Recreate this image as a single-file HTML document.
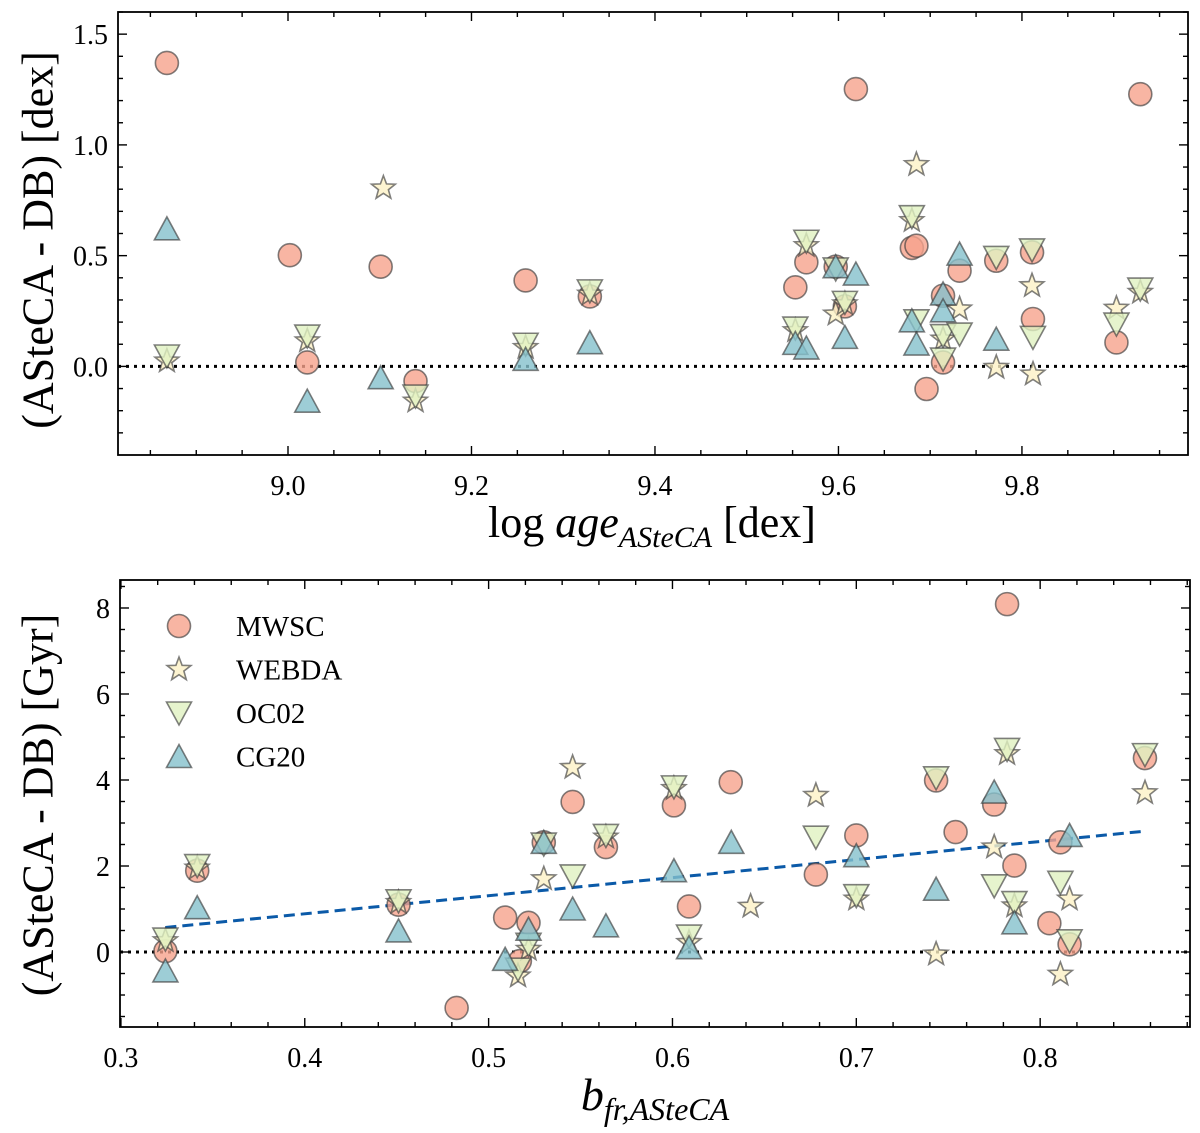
<!DOCTYPE html>
<html><head><meta charset="utf-8"><style>
html,body{margin:0;padding:0;background:#fff;}
svg{display:block;font-family:"Liberation Serif",serif;}
</style></head><body>
<svg id="fig" width="1200" height="1133" viewBox="0 0 1200 1133" xmlns="http://www.w3.org/2000/svg"></svg>
<script>
// ---- Top panel data: log age (x), delta age dex (y)
const topMwscX = [8.868,9.002,9.021,9.101,9.139,9.259,9.329,9.553,9.565,9.597,9.607,9.619,9.680,9.685,9.696,9.714,9.714,9.732,9.772,9.811,9.812,9.903,9.929];
const topMwscY = [1.370,0.502,0.018,0.450,-0.066,0.388,0.316,0.357,0.470,0.450,0.271,1.252,0.535,0.545,-0.102,0.319,0.018,0.432,0.477,0.515,0.214,0.108,1.229];
const topWebdaX = [8.868,9.021,9.104,9.139,9.259,9.329,9.553,9.565,9.597,9.607,9.680,9.685,9.714,9.732,9.772,9.811,9.812,9.903,9.929];
const topWebdaY = [0.024,0.115,0.805,-0.157,0.085,0.326,0.161,0.545,0.236,0.282,0.658,0.911,0.123,0.259,-0.005,0.364,-0.035,0.262,0.334];
const topOc02X = [8.868,9.021,9.139,9.259,9.329,9.553,9.565,9.597,9.607,9.680,9.685,9.714,9.714,9.732,9.772,9.811,9.812,9.903,9.929];
const topOc02Y = [0.047,0.137,-0.134,0.100,0.341,0.173,0.565,0.440,0.289,0.676,0.206,0.139,0.033,0.146,0.492,0.526,0.131,0.191,0.349];
const topCg20X = [8.868,9.021,9.101,9.259,9.329,9.553,9.565,9.597,9.619,9.607,9.680,9.685,9.714,9.714,9.732,9.772];
const topCg20Y = [0.621,-0.157,-0.051,0.032,0.107,0.104,0.083,0.450,0.417,0.131,0.206,0.101,0.327,0.251,0.507,0.123];
const topXTicks = [9.0,9.2,9.4,9.6,9.8];
const topXTickLabels = ["9.0","9.2","9.4","9.6","9.8"];
const topYTicks = [0.0,0.5,1.0,1.5];
const topYTickLabels = ["0.0","0.5","1.0","1.5"];

// ---- Bottom panel data: b_fr (x), delta age Gyr (y)
const botMwscX = [0.3242,0.3415,0.451,0.4826,0.509,0.5217,0.517,0.530,0.5457,0.5638,0.6008,0.6317,0.609,0.678,0.700,0.7434,0.754,0.775,0.782,0.786,0.805,0.811,0.816,0.857];
const botMwscY = [0.02,1.89,1.10,-1.30,0.80,0.68,-0.21,2.55,3.49,2.44,3.41,3.95,1.06,1.80,2.71,3.99,2.79,3.43,8.09,2.01,0.67,2.55,0.18,4.51];
const botWebdaX = [0.3242,0.3415,0.451,0.516,0.5217,0.530,0.5457,0.5638,0.6008,0.609,0.6425,0.678,0.700,0.7434,0.775,0.782,0.786,0.811,0.816,0.857];
const botWebdaY = [0.26,1.95,1.15,-0.56,0.06,1.70,4.29,2.67,3.80,0.22,1.06,3.64,1.23,-0.05,2.44,4.61,1.07,-0.52,1.23,3.70];
const botOc02X = [0.3242,0.3415,0.451,0.516,0.5217,0.530,0.5457,0.5638,0.6008,0.609,0.678,0.700,0.7434,0.775,0.782,0.786,0.811,0.816,0.857];
const botOc02Y = [0.30,2.01,1.19,-0.40,0.18,2.51,1.77,2.71,3.84,0.37,2.67,1.31,4.05,1.54,4.71,1.15,1.62,0.26,4.59];
const botCg20X = [0.3242,0.3415,0.451,0.509,0.5217,0.530,0.5457,0.5638,0.6008,0.609,0.632,0.700,0.7434,0.775,0.786,0.816];
const botCg20Y = [-0.44,1.03,0.49,-0.17,0.53,2.55,1.00,0.61,1.89,0.10,2.55,2.24,1.46,3.72,0.68,2.71];
const fitX = [0.3242,0.857];
const fitSlope = 4.204;
const fitIntercept = -0.793;
const botXTicks = [0.3,0.4,0.5,0.6,0.7,0.8];
const botXTickLabels = ["0.3","0.4","0.5","0.6","0.7","0.8"];
const botYTicks = [0,2,4,6,8];
const botYTickLabels = ["0","2","4","6","8"];

const NS = "http://www.w3.org/2000/svg";
const svg = document.getElementById('fig');
function mk(tag, attrs, parent){
  const e = document.createElementNS(NS, tag);
  for (const k in attrs) e.setAttribute(k, attrs[k]);
  (parent||svg).appendChild(e);
  return e;
}
const STYLE = {
  mwsc:{fill:"#f6a38c"}, webda:{fill:"#fdf1c6"}, oc02:{fill:"#e0f1c0"}, cg20:{fill:"#84c0cc"}
};
function marker(kind, cx, cy, g){
  let e;
  const common = {fill:STYLE[kind].fill, 'fill-opacity':0.8, stroke:'#3c3c3c', 'stroke-opacity':0.65, 'stroke-width':1.6};
  if (kind==='mwsc'){
    e = mk('circle', Object.assign({cx:cx, cy:cy, r:11.5}, common), g);
  } else if (kind==='webda'){
    let pts=[];
    for(let i=0;i<10;i++){const r=i%2?5.2:12.5;const a=-Math.PI/2+i*Math.PI/5;pts.push((cx+r*Math.cos(a)).toFixed(1)+','+(cy+r*Math.sin(a)).toFixed(1));}
    e = mk('polygon', Object.assign({points:pts.join(' ')}, common), g);
  } else if (kind==='oc02'){
    e = mk('polygon', Object.assign({points:`${cx-12.5},${cy-11} ${cx+12.5},${cy-11} ${cx},${cy+12}`}, common), g);
  } else {
    e = mk('polygon', Object.assign({points:`${cx-12.5},${cy+11} ${cx+12.5},${cy+11} ${cx},${cy-12}`}, common), g);
  }
  return e;
}

function panel(cfg){
  const {name,L,R,T,B,xmin,xmax,ymin,ymax} = cfg;
  const sx = v => L + (v-xmin)/(xmax-xmin)*(R-L);
  const sy = v => B - (v-ymin)/(ymax-ymin)*(B-T);
  const g = mk('g', {});
  
  
  const clipId = name+'-clip';
  const cp = mk('clipPath',{id:clipId},g); mk('rect',{x:L,y:T,width:R-L,height:B-T},cp);
  const zl = mk('line',{x1:L,x2:R,y1:sy(0),y2:sy(0),stroke:'#000','stroke-width':3,'stroke-dasharray':'3 5'},g);
  
  
  if (cfg.fit){
    const fl = mk('line',{x1:sx(fitX[0]),x2:sx(fitX[1]),y1:sy(fitIntercept+fitSlope*fitX[0]),y2:sy(fitIntercept+fitSlope*fitX[1]),stroke:'#0b5aa8','stroke-width':3,'stroke-dasharray':'11 6'},g);
    
    
  }
  const mg = mk('g',{'clip-path':`url(#${clipId})`},g);
  cfg.series.forEach(s=>{
    const sg = mk('g',{},mg);
    
    
    s.x.forEach((xv,i)=>{
      const m = marker(s.kind, sx(xv), sy(s.y[i]), sg);
      
      
    });
  });
  const fr = mk('rect',{x:L,y:T,width:R-L,height:B-T,fill:'none',stroke:'#000','stroke-width':1.8},g);
  
  
  const tg = mk('g',{stroke:'#000','stroke-width':1.4},g);
  for (let v=cfg.xminorStart; v<=xmax+1e-9; v+=cfg.xminor){
    const isMaj = cfg.xticks.some(t=>Math.abs(t-v)<1e-6);
    const len = isMaj?9:5; const x=sx(v);
    if (x<L-0.5||x>R+0.5) continue;
    mk('line',{x1:x,x2:x,y1:B,y2:B-len},tg); mk('line',{x1:x,x2:x,y1:T,y2:T+len},tg);
  }
  for (let v=cfg.yminorStart; v<=ymax+1e-9; v+=cfg.yminor){
    const isMaj = cfg.yticks.some(t=>Math.abs(t-v)<1e-6);
    const len = isMaj?9:5; const y=sy(v);
    if (y<T-0.5||y>B+0.5) continue;
    mk('line',{x1:L,x2:L+len,y1:y,y2:y},tg); mk('line',{x1:R,x2:R-len,y1:y,y2:y},tg);
  }
  cfg.xticks.forEach((v,i)=>{
    const t = mk('text',{x:sx(v),y:B+40,'text-anchor':'middle','font-size':28,fill:'#000'},g);
    t.textContent = cfg.xlabels[i];
    
    
  });
  cfg.yticks.forEach((v,i)=>{
    const t = mk('text',{x:L-10,y:sy(v)+10,'text-anchor':'end','font-size':28,fill:'#000'},g);
    t.textContent = cfg.ylabels[i];
    
    
  });
  return g;
}

panel({name:'age-dex-panel',L:118,R:1188,T:12,B:455,xmin:8.8147,xmax:9.981,ymin:-0.40,ymax:1.60,
  xticks:topXTicks,xlabels:topXTickLabels,yticks:topYTicks,ylabels:topYTickLabels,
  xminor:0.05,xminorStart:8.85,yminor:0.1,yminorStart:-0.3,
  series:[{kind:'mwsc',x:topMwscX,y:topMwscY},{kind:'webda',x:topWebdaX,y:topWebdaY},{kind:'oc02',x:topOc02X,y:topOc02Y},{kind:'cg20',x:topCg20X,y:topCg20Y}]});
panel({name:'age-gyr-panel',L:120,R:1190,T:580,B:1027,xmin:0.2995,xmax:0.8815,ymin:-1.744,ymax:8.651,fit:true,
  xticks:botXTicks,xlabels:botXTickLabels,yticks:botYTicks,ylabels:botYTickLabels,
  xminor:0.02,xminorStart:0.30,yminor:0.5,yminorStart:-1.5,
  series:[{kind:'mwsc',x:botMwscX,y:botMwscY},{kind:'webda',x:botWebdaX,y:botWebdaY},{kind:'oc02',x:botOc02X,y:botOc02Y},{kind:'cg20',x:botCg20X,y:botCg20Y}]});

const lg = mk('g',{});


const legendKinds = ['mwsc','webda','oc02','cg20'];
const legendNames = ['MWSC','WEBDA','OC02','CG20'];
legendKinds.forEach((k,i)=>{
  const y = 626 + i*43.5;
  const m = marker(k, 179, y, lg);
  
  
  const t = mk('text',{x:236,y:y+10,'font-size':29,fill:'#000'},lg);
  t.textContent = legendNames[i];
  
  
});
</script>
<div style="position:absolute;left:0;top:0;width:1200px;height:1133px;pointer-events:none;font-family:'Liberation Serif',serif;color:#000">
  <div style="position:absolute;left:38px;top:240px;transform:translate(-50%,-50%) rotate(-90deg);font-size:44px;white-space:nowrap">(ASteCA - DB) [dex]</div>
  <div style="position:absolute;left:38px;top:805px;transform:translate(-50%,-50%) rotate(-90deg);font-size:44px;white-space:nowrap">(ASteCA - DB) [Gyr]</div>
  <div style="position:absolute;left:652px;top:526px;transform:translate(-50%,-50%);font-size:44px;white-space:nowrap">log <i>age</i><sub style="font-size:30px;font-style:italic">ASteCA</sub> [dex]</div>
  <div style="position:absolute;left:655px;top:1098px;transform:translate(-50%,-50%);font-size:46px;white-space:nowrap"><i>b</i><sub style="font-size:32px;font-style:italic">fr,ASteCA</sub></div>
</div>
</body></html>
